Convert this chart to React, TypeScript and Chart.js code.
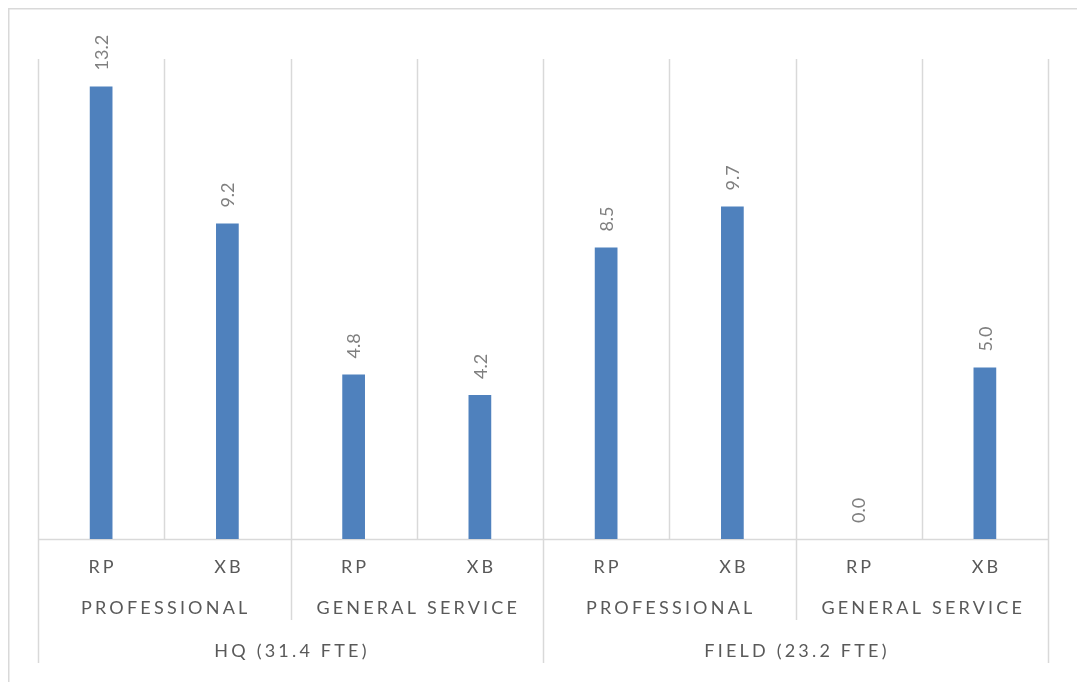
import React, { useEffect, useRef } from "react";
import { Chart, registerables } from "chart.js";

Chart.register(...registerables);

const categories = ["RP", "XB", "RP", "XB", "RP", "XB", "RP", "XB"];
const staffGroups = ["PROFESSIONAL", "GENERAL SERVICE", "PROFESSIONAL", "GENERAL SERVICE"];
const locations = ["HQ (31.4 FTE)", "FIELD (23.2 FTE)"];
const values = [13.2, 9.2, 4.8, 4.2, 8.5, 9.7, 0.0, 5.0];
const yMax = 14;

const FONT = "Lato, 'Open Sans', sans-serif";
const GRID = "#d9d9d9";
const TEXT = "#595959";

const multiLevelPlugin = {
  id: "multiLevel",
  beforeDatasetsDraw(chart: any) {
    const { ctx, chartArea } = chart;
    const { left, right, top, bottom } = chartArea;
    const n = categories.length;
    const w = (right - left) / n;
    ctx.save();
    ctx.strokeStyle = GRID;
    ctx.lineWidth = 1.5;
    ctx.beginPath();
    ctx.moveTo(0.75, chart.height + 5);
    ctx.lineTo(0.75, 0.75);
    ctx.lineTo(chart.width + 5, 0.75);
    ctx.stroke();

    for (let k = 0; k <= n; k++) {
      const x = Math.round(left + k * w) + 0.5;
      let yEnd = bottom;
      if (k % 4 === 0) yEnd = bottom + 124;
      else if (k % 2 === 0) yEnd = bottom + 81;
      ctx.beginPath();
      ctx.moveTo(x, top);
      ctx.lineTo(x, yEnd);
      ctx.stroke();
    }
    ctx.beginPath();
    ctx.moveTo(left, bottom + 0.5);
    ctx.lineTo(right, bottom + 0.5);
    ctx.stroke();

    ctx.fillStyle = TEXT;
    ctx.textAlign = "center";
    ctx.textBaseline = "middle";
    (ctx as any).letterSpacing = "3px";
    ctx.font = `18px ${FONT}`;
    categories.forEach((c, i) => {
      ctx.fillText(c, left + (i + 0.5) * w + 1.5, bottom + 28);
    });
    (ctx as any).letterSpacing = "3.2px";
    staffGroups.forEach((g, i) => {
      ctx.fillText(g, left + (i * 2 + 1) * w + 1.5, bottom + 69);
    });
    locations.forEach((l, i) => {
      ctx.fillText(l, left + (i * 4 + 2) * w + 1.5, bottom + 112);
    });
    ctx.restore();
  },
  afterDatasetsDraw(chart: any) {
    const { ctx } = chart;
    const meta = chart.getDatasetMeta(0);
    ctx.save();
    ctx.fillStyle = "#7f7f7f";
    ctx.font = `18px ${FONT}`;
    ctx.textAlign = "left";
    ctx.textBaseline = "middle";
    meta.data.forEach((el: any, i: number) => {
      ctx.save();
      ctx.translate(el.x, el.y - 16);
      ctx.rotate(-Math.PI / 2);
      ctx.fillText(values[i].toFixed(1), 0, 1);
      ctx.restore();
    });
    ctx.restore();
  },
};

export default function App() {
  const ref = useRef<HTMLCanvasElement>(null);
  useEffect(() => {
    document.body.style.overflow = "hidden";
    const chart = new Chart(ref.current!, {
      type: "bar",
      data: {
        labels: categories,
        datasets: [
          {
            data: values,
            backgroundColor: "#4f81bd",
            barPercentage: 0.9,
            categoryPercentage: 0.2,
          },
        ],
      },
      options: {
        animation: false,
        responsive: false,
        maintainAspectRatio: false,
        layout: { padding: { left: 30, right: 29, top: 51, bottom: 143 } },
        plugins: { legend: { display: false }, tooltip: { enabled: false } },
        scales: {
          x: { display: false, offset: true },
          y: { display: false, min: 0, max: yMax },
        },
      },
      plugins: [multiLevelPlugin],
    });
    return () => chart.destroy();
  }, []);
  return (
    <div style={{ position: "absolute", left: 8, top: 8, width: 1069, height: 674 }}>
      <canvas ref={ref} width={1069} height={674} style={{ display: "block" }} />
    </div>
  );
}
